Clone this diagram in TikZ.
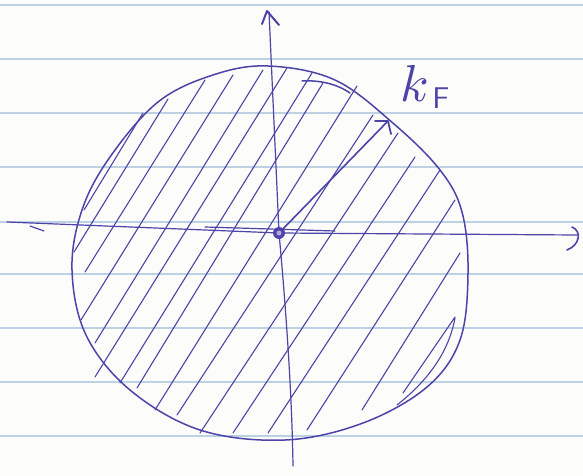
\documentclass[tikz,border=0pt]{standalone}
\definecolor{inkc}{RGB}{76,68,168}
\definecolor{rulec}{RGB}{188,210,228}
\definecolor{paperc}{RGB}{252,252,250}
\begin{document}
\begin{tikzpicture}[x=1pt,y=-1pt,
  pen/.style={draw=inkc, line cap=round, line join=round},
  hatch/.style={pen, line width=1.1pt},
  rim/.style={pen, line width=1.5pt},
  axisline/.style={pen, line width=1.2pt},
  ruleline/.style={draw=rulec, line width=2.2pt}]
\fill[paperc] (0,0) rectangle (583,476);
\useasboundingbox (0,0) rectangle (583,476);
\foreach \y in {5,59,113,167,222,274,328,382,436}
  \draw[ruleline] (0,\y) -- (583,\y);
% Fermi circle
\draw[rim] plot[smooth cycle, tension=0.6] coordinates {
  (268,66) (335,80) (394,124) (440,170) (462,212)
  (468,273) (460,340) (427,387) (363,423)
  (285,440) (200,430) (130,390)
  (86,335) (72,270) (82,210) (110,157) (158,102)
  (213,75)};
\draw[rim] (302,81) .. controls (320,80) and (337,84) .. (350,93);
% hatching
\foreach \a/\b/\c/\d in {143/113/84/210, 168/99/74/252, 205/80/85/272,
  233/75/81/320, 263/70/95/343, 287/68/95/377, 312/73/120/383,
  323/83/137/388, 357/86/155/410, 373/115/177/415, 398/133/200/433,
  415/157/233/433, 440/170/268/433, 455/200/307/430, 460/253/362/410,
  455/317/403/393}
  \draw[hatch] (\a,\b) -- (\c,\d);
\draw[hatch] (455,318) .. controls (450,345) and (435,375) .. (397,405);
% axes
\coordinate (O) at (279,233);
\coordinate (ytop) at (269,12);
\coordinate (ybot) at (293,466);
\coordinate (xl) at (7,222);
\coordinate (xr) at (577,235);
\draw[axisline] (ytop) -- (O) .. controls (287,320) and (292,400) .. (ybot);
\draw[pen, line width=2pt] (262,24) -- (267,11) -- (279,25);
\draw[axisline] (xl) -- (O) -- (xr);
\draw[axisline] (205,227) -- (335,231);
\draw[pen, line width=1.2pt] (30,226) -- (44,231);
\draw[pen, line width=1.6pt] (572,227) .. controls (582,231) and (580,245) .. (567,250);
% k_F vector
\coordinate (kt) at (387,122);
\draw[pen, line width=1.6pt] (O) -- (kt);
\draw[pen, line width=1.8pt] (375,121) -- (388,121) -- (391,134);
\fill[inkc] (O) circle (6);
\fill[inkc!45] (O) circle (2.5);
\node[text=inkc, scale=5.2, inner sep=0pt] (labk) at (415,83) {$k$};
\node[text=inkc, scale=3, inner sep=0pt, font=\sffamily] (labF) at (441,98) {F};
\end{tikzpicture}
\end{document}
